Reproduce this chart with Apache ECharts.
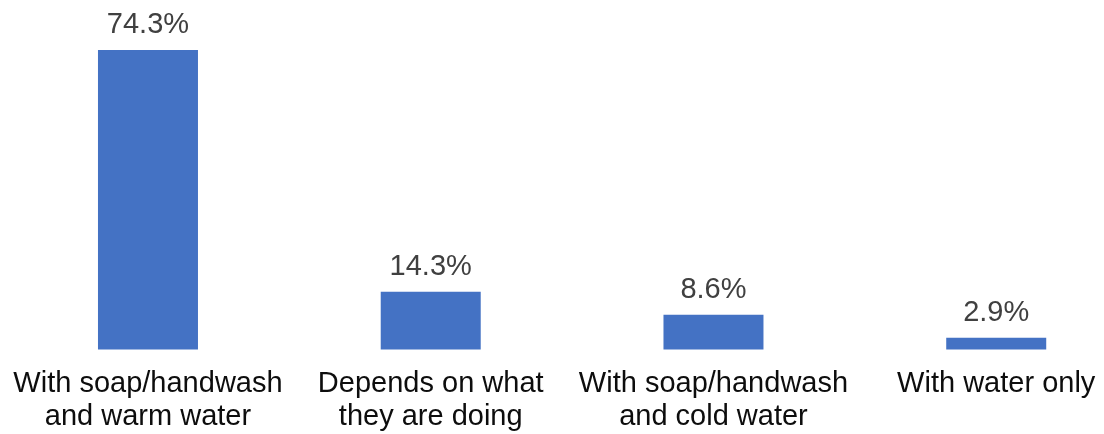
<!DOCTYPE html>
<html>
<head>
<meta charset="utf-8">
<style>
  html, body { margin: 0; padding: 0; background: #ffffff; overflow: hidden; width: 1104px; height: 434px; }
  /* the drawing surface runs past the right edge so the four columns spread evenly */
  #chart { width: 1140px; height: 434px; }
</style>
<script src="https://cdn.jsdelivr.net/npm/echarts@6/dist/echarts.min.js"></script>
</head>
<body>
<div id="chart"></div>
<script>
// How people wash their hands (share of respondents, %)
const categories = [
  'With soap/handwash\nand warm water',
  'Depends on what\nthey are doing',
  'With soap/handwash\nand cold water',
  'With water only'
];
const shares = [74.3, 14.3, 8.6, 2.9];

const chart = echarts.init(document.getElementById('chart'), null, { renderer: 'canvas' });

chart.setOption({
  animation: false,
  backgroundColor: '#ffffff',
  grid: { left: 6.6, width: 1131, top: 27, height: 322.5, containLabel: false },
  xAxis: {
    type: 'category',
    data: categories,
    axisLine: { show: false },
    axisTick: { show: false },
    axisLabel: {
      interval: 0,
      margin: 18,
      color: '#0d0d0d',
      fontFamily: 'Liberation Sans, Arial, sans-serif',
      fontSize: 29,
      lineHeight: 33
    }
  },
  yAxis: {
    type: 'value',
    min: 0,
    max: 80,
    show: false,
    splitLine: { show: false }
  },
  series: [{
    type: 'bar',
    data: shares,
    barWidth: 100,
    itemStyle: { color: '#4472C4' },
    label: {
      show: true,
      position: 'top',
      distance: 10,
      formatter: p => p.value.toFixed(1) + '%',
      color: '#404040',
      fontFamily: 'Liberation Sans, Arial, sans-serif',
      fontSize: 29
    }
  }]
});
</script>
</body>
</html>
